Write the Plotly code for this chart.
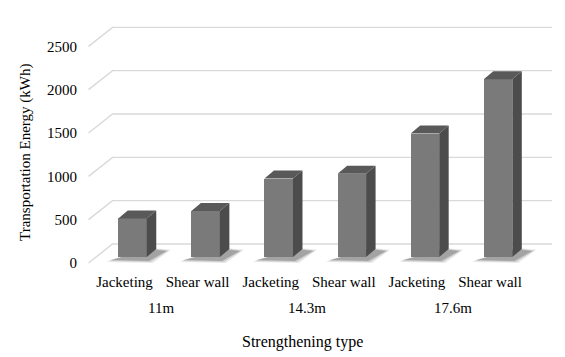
import plotly.graph_objects as go

# ---------------- data ----------------
categories = ["Jacketing", "Shear wall", "Jacketing", "Shear wall", "Jacketing", "Shear wall"]
groups = ["11m", "14.3m", "17.6m"]
group_members = [[0, 1], [2, 3], [4, 5]]
energy_kwh = [445, 530, 905, 960, 1425, 2050]
y_ticks = [0, 500, 1000, 1500, 2000, 2500]

# ---------------- geometry / style ----------------
W, H = 565, 357
L, R, T, B = 80, 8, 10, 86
X_RANGE = [-0.609, 5.916]
Y_RANGE = [-92.3, 2919.2]
pxx = (X_RANGE[1] - X_RANGE[0]) / (W - L - R)   # x units per pixel
pxy = (Y_RANGE[1] - Y_RANGE[0]) / (H - T - B)   # y units per pixel

FONT = "Liberation Serif, Times New Roman, serif"
FRONT = "#7a7a7a"
SIDE = "#4c4c4c"
TOP = "#595959"
GRID = "#d9d9d9"

bar_w = 28.5 * pxx
bar_shift = 8 * pxx          # bar sits a bit deeper than the front plane
bar_base = 6 * pxy
side_dx = 9.5 * pxx
side_dy = 8 * pxy

grid_front_x = -36 * pxx
grid_back_x = grid_front_x + 24 * pxx
grid_end_x = 427.5 * pxx
grid_dy = 19 * pxy

fig = go.Figure()

# gridlines (left wall + back wall), bottom layer
for v in y_ticks:
    fig.add_trace(go.Scatter(
        x=[grid_front_x, grid_back_x, grid_end_x],
        y=[v, v + grid_dy, v + grid_dy],
        mode="lines", line=dict(color=GRID, width=1.4),
        hoverinfo="skip", showlegend=False, xaxis="x", yaxis="y"))

# soft floor shadows (layered to imitate blur)
for i, v in enumerate(energy_kwh):
    xl = i + bar_shift - bar_w / 2
    xr = i + bar_shift + bar_w / 2
    for grow, op in [(4, 0.12), (2, 0.18), (0, 0.3)]:
        fig.add_trace(go.Scatter(
            x=[xl - (8 + grow) * pxx, xr + (2 + grow) * pxx, xr + (20 + grow) * pxx, xr + 4 * pxx],
            y=[(3 - grow * 0.5) * pxy, (2 - grow * 0.5) * pxy, (12 + grow * 0.3) * pxy, (14 + grow * 0.3) * pxy],
            fill="toself", fillcolor="rgba(70,70,70,%.2f)" % op, mode="none",
            hoverinfo="skip", showlegend=False, xaxis="x", yaxis="y"))

# front faces of the bars (overlay axes so they sit above gridlines)
fig.add_trace(go.Bar(
    x=[i + bar_shift for i in range(len(energy_kwh))],
    y=energy_kwh, base=[bar_base] * len(energy_kwh), width=bar_w,
    marker=dict(color=FRONT, line=dict(width=0)),
    showlegend=False, xaxis="x2", yaxis="y2",
    hovertemplate="%{y} kWh<extra></extra>"))

# side and top faces
for i, v in enumerate(energy_kwh):
    xl = i + bar_shift - bar_w / 2
    xr = i + bar_shift + bar_w / 2
    top = bar_base + v
    fig.add_trace(go.Scatter(
        x=[xr, xr + side_dx, xr + side_dx, xr, xr],
        y=[bar_base, bar_base + side_dy, top + side_dy, top, bar_base],
        fill="toself", fillcolor=SIDE, mode="none",
        hoverinfo="skip", showlegend=False, xaxis="x2", yaxis="y2"))
    fig.add_trace(go.Scatter(
        x=[xl, xr, xr + side_dx, xl + side_dx, xl],
        y=[top, top, top + side_dy, top + side_dy, top],
        fill="toself", fillcolor=TOP, mode="none",
        hoverinfo="skip", showlegend=False, xaxis="x2", yaxis="y2"))

annotations = []
for g, members in zip(groups, group_members):
    annotations.append(dict(
        x=sum(members) / len(members), xref="x", y=0, yref="paper",
        yshift=-37, text=g, showarrow=False, yanchor="middle",
        font=dict(family=FONT, size=15, color="#000")))
annotations.append(dict(
    x=(302.7 - L) / (W - L - R), xref="paper", y=0, yref="paper", yshift=-70.5,
    text="Strengthening type", showarrow=False, yanchor="middle",
    font=dict(family=FONT, size=16, color="#000")))
annotations.append(dict(
    x=(25 - L) / (W - L - R), xref="paper", y=(H - B - 153) / (H - T - B), yref="paper",
    text="Transportation Energy (kWh)", textangle=-90, showarrow=False,
    xanchor="center", yanchor="middle",
    font=dict(family=FONT, size=15, color="#000")))

axis_common = dict(showgrid=False, zeroline=False, showline=False)
fig.update_layout(
    width=W, height=H,
    margin=dict(l=L, r=R, t=T, b=B, pad=0),
    paper_bgcolor="white", plot_bgcolor="white",
    showlegend=False, bargap=0,
    font=dict(family=FONT, size=15, color="#000"),
    xaxis=dict(range=X_RANGE, tickvals=list(range(len(categories))), ticktext=categories,
               ticks="", tickfont=dict(family=FONT, size=15, color="#000"), **axis_common),
    yaxis=dict(range=Y_RANGE, tickvals=y_ticks, ticks="", ticklabelstandoff=2,
               tickfont=dict(family=FONT, size=15, color="#000"), **axis_common),
    xaxis2=dict(range=X_RANGE, overlaying="x", visible=False, **axis_common),
    yaxis2=dict(range=Y_RANGE, overlaying="y", visible=False, **axis_common),
    annotations=annotations,
)

fig.write_html("out.html", config={"displayModeBar": False},
               post_script="document.body.style.margin='0';")
